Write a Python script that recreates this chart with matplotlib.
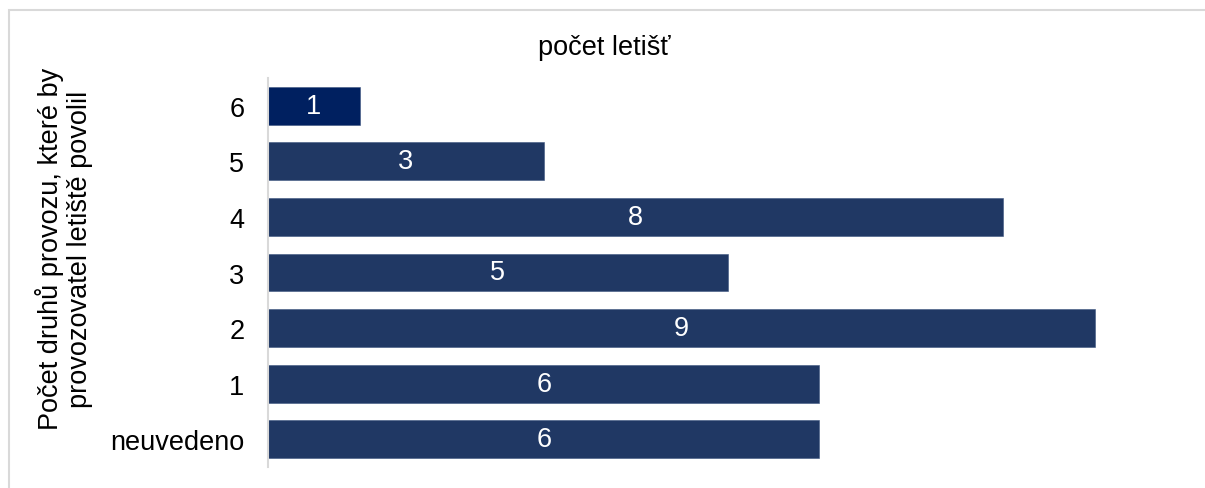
import matplotlib.pyplot as plt
from matplotlib.patches import Rectangle

plt.rcParams['font.family'] = ['Liberation Sans', 'DejaVu Sans']

categories = ['neuvedeno', '1', '2', '3', '4', '5', '6']
counts = [6, 6, 9, 5, 8, 3, 1]
colors = ['#203864'] * 6 + ['#002060']

W, H = 1205, 489
fig = plt.figure(figsize=(W / 100, H / 100), dpi=100)

# light frame around the chart area
fig.patches.append(Rectangle((9 / W, -0.05), 1.2, 1 - 11 / H + 0.05,
                             transform=fig.transFigure, fill=False,
                             edgecolor='#d9d9d9', linewidth=1.5))

ax = fig.add_axes([268 / W, 1 - 468 / H, (1187 - 268) / W, (468 - 79) / H])
y = range(len(categories))
bars = ax.barh(y, counts, height=0.68, color=colors, edgecolor='#3d5580', linewidth=0.4)

for b, v in zip(bars, counts):
    ax.text(b.get_width() / 2, b.get_y() + b.get_height() / 2, str(v),
            ha='center', va='center', color='white', fontsize=19.5)

ax.set_xlim(0, 10)
ax.set_ylim(-0.5, len(categories) - 0.5)
ax.set_yticks(list(y))
ax.set_yticklabels(categories, fontsize=19.5)
ax.tick_params(axis='y', length=0, pad=17)
ax.set_xticks([])
for s in ['top', 'right', 'bottom']:
    ax.spines[s].set_visible(False)
ax.spines['left'].set_color('#d9d9d9')
ax.spines['left'].set_linewidth(1.5)

fig.text(604 / W, 1 - 48 / H, 'počet letišť', ha='center', va='center', fontsize=19.5)
fig.text(64 / W, 1 - 249 / H, 'Počet druhů provozu, které by\nprovozovatel letiště povolil',
         rotation=90, ha='center', va='center', fontsize=19.5, linespacing=1.15)

fig.savefig('out.png', dpi=100, facecolor='white')
